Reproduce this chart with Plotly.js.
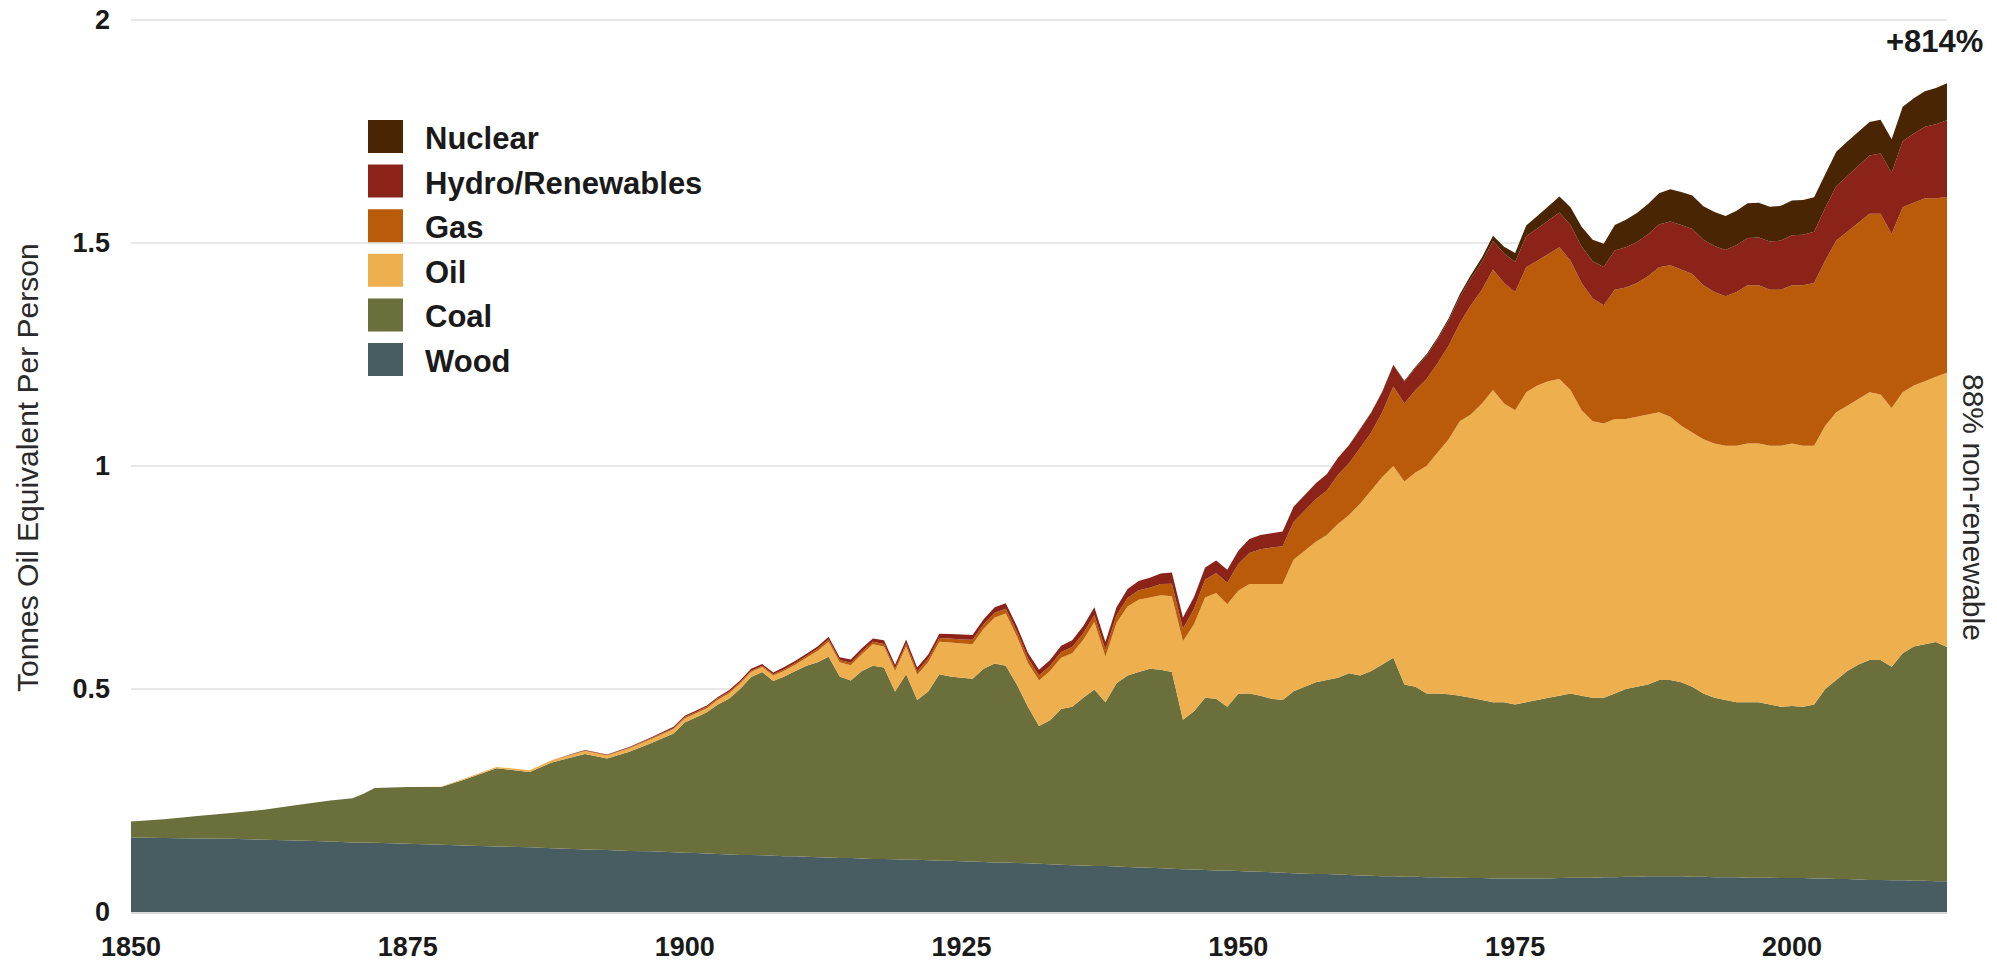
<!DOCTYPE html>
<html>
<head>
<meta charset="utf-8">
<script src="https://cdn.plot.ly/plotly-3.0.1.min.js"></script>
<style>
  html, body { margin: 0; padding: 0; background: #ffffff; }
  #chart { width: 1997px; height: 966px; }
</style>
</head>
<body>
<div id="chart"></div>
<script>
// ---------------- DATA (tonnes oil equivalent per person) ----------------
const years = [
  1850,1853,1856,1859,1862,1865,1868,1870,1871,1872,1875,1878,1880,1883,1886,1888,1890,1891,1893,1895,1897,1899,
  1900,1901,1902,1903,1904,1905,1906,1907,1908,1909,
  1910,1911,1912,1913,1914,1915,1916,1917,1918,1919,
  1920,1921,1922,1923,1924,1925,1926,1927,1928,1929,
  1930,1931,1932,1933,1934,1935,1936,1937,1938,1939,
  1940,1941,1942,1943,1944,1945,1946,1947,1948,1949,
  1950,1951,1952,1953,1954,1955,1956,1957,1958,1959,
  1960,1961,1962,1963,1964,1965,1966,1967,1968,1969,
  1970,1971,1972,1973,1974,1975,1976,1977,1978,1979,
  1980,1981,1982,1983,1984,1985,1986,1987,1988,1989,
  1990,1991,1992,1993,1994,1995,1996,1997,1998,1999,
  2000,2001,2002,2003,2004,2005,2006,2007,2008,2009,
  2010,2011,2012,2013,2014
];

const wood = [
  .167,.166,.165,.164,.162,.160,.158,.156,.156,.155,.153,.151,.149,.147,.145,.143,.141,.140,.139,.137,.136,.134,
  .133,.132,.131,.130,.129,.128,.128,.127,.126,.125,
  .125,.124,.123,.122,.121,.121,.120,.119,.119,.118,
  .117,.117,.116,.115,.115,.114,.113,.112,.111,.111,
  .110,.109,.108,.107,.106,.105,.104,.103,.103,.102,
  .101,.100,.099,.098,.097,.096,.095,.094,.093,.093,
  .092,.091,.090,.089,.088,.087,.086,.085,.085,.084,
  .083,.082,.081,.080,.080,.079,.079,.078,.078,.077,
  .077,.076,.076,.075,.075,.075,.075,.075,.075,.076,
  .077,.077,.077,.078,.078,.079,.079,.080,.080,.080,
  .080,.079,.079,.078,.078,.078,.077,.077,.077,.076,
  .076,.076,.075,.075,.074,.074,.073,.072,.072,.071,
  .071,.070,.070,.069,.069
];

const coal = [
  .036,.042,.050,.058,.067,.080,.092,.099,.109,.123,.127,.129,.147,.175,.169,.192,.207,.214,.205,.222,.243,.266,
  .292,.304,.317,.335,.349,.372,.399,.411,.392,.403,
  .415,.428,.437,.450,.407,.398,.420,.433,.429,.376,
  .416,.358,.378,.418,.413,.411,.410,.433,.446,.441,
  .400,.351,.309,.323,.349,.355,.376,.396,.367,.411,
  .429,.438,.446,.445,.441,.335,.355,.386,.385,.367,
  .397,.399,.395,.389,.387,.408,.419,.430,.435,.441,
  .452,.448,.459,.475,.490,.431,.426,.412,.412,.411,
  .408,.404,.399,.395,.395,.390,.395,.400,.405,.409,
  .413,.408,.403,.402,.412,.421,.426,.430,.440,.440,
  .435,.426,.411,.402,.397,.392,.393,.393,.388,.384,
  .386,.384,.390,.425,.446,.466,.482,.493,.493,.479,
  .509,.525,.530,.536,.525
];

const oil = [
  0,0,0,0,0,0,0,0,0,0,0,.001,.002,.003,.004,.005,.006,.007,.007,.008,.009,.010,
  .009,.009,.009,.011,.012,.012,.011,.011,.012,.013,
  .014,.018,.025,.034,.032,.034,.038,.048,.047,.046,
  .062,.057,.066,.073,.076,.077,.077,.090,.103,.117,
  .108,.098,.102,.110,.115,.120,.130,.151,.102,.135,
  .155,.162,.160,.167,.170,.176,.195,.225,.237,.230,
  .231,.245,.250,.257,.260,.295,.305,.315,.325,.345,
  .355,.385,.405,.420,.430,.455,.480,.510,.540,.572,
  .615,.635,.665,.700,.670,.660,.695,.705,.710,.710,
  .680,.640,.620,.615,.615,.605,.605,.605,.600,.590,
  .575,.570,.570,.570,.570,.575,.580,.580,.580,.585,
  .588,.585,.580,.590,.600,.595,.595,.600,.595,.580,
  .585,.585,.590,.595,.615
];

const gas = [
  0,0,0,0,0,0,0,0,0,0,0,0,0,0,0,0,.001,.001,.001,.001,.002,.002,
  .003,.003,.003,.003,.003,.003,.003,.003,.003,.003,
  .004,.004,.005,.005,.005,.006,.006,.006,.006,.006,
  .007,.007,.008,.008,.009,.009,.010,.010,.011,.011,
  .011,.011,.011,.012,.013,.014,.015,.016,.016,.017,
  .019,.021,.022,.025,.028,.028,.035,.040,.045,.048,
  .060,.070,.078,.082,.085,.085,.090,.095,.100,.110,
  .116,.125,.130,.145,.178,.175,.185,.195,.200,.210,
  .220,.245,.255,.270,.270,.265,.280,.280,.285,.295,
  .290,.285,.275,.265,.290,.295,.300,.310,.325,.340,
  .350,.355,.345,.340,.335,.345,.355,.355,.350,.350,
  .355,.360,.365,.370,.385,.390,.395,.400,.405,.390,
  .415,.410,.410,.400,.394
];

const hydro = [
  0,0,0,0,0,0,0,0,0,0,0,0,0,0,0,0,.001,.001,.001,.002,.002,.003,
  .003,.003,.003,.003,.004,.004,.004,.004,.004,.005,
  .005,.005,.005,.006,.006,.007,.007,.007,.008,.008,
  .009,.009,.009,.010,.010,.011,.011,.011,.012,.012,
  .012,.012,.013,.013,.014,.015,.016,.017,.017,.018,
  .020,.021,.022,.024,.025,.025,.026,.027,.028,.029,
  .030,.031,.032,.032,.033,.034,.035,.036,.037,.038,
  .040,.042,.044,.046,.048,.049,.050,.052,.054,.056,
  .058,.060,.062,.064,.066,.067,.070,.072,.075,.078,
  .080,.082,.084,.086,.088,.090,.092,.094,.096,.098,
  .100,.101,.102,.103,.104,.105,.106,.107,.108,.110,
  .112,.113,.115,.118,.122,.125,.128,.131,.135,.137,
  .148,.155,.160,.166,.172
];

const nuclear = [
  0,0,0,0,0,0,0,0,0,0,0,0,0,0,0,0,0,0,0,0,0,0,
  0,0,0,0,0,0,0,0,0,0,
  0,0,0,0,0,0,0,0,0,0,
  0,0,0,0,0,0,0,0,0,0,
  0,0,0,0,0,0,0,0,0,0,
  0,0,0,0,0,0,0,0,0,0,
  0,0,0,0,0,0,0,0,0,0,
  .001,.001,.001,.001,.001,.002,.002,.003,.004,.005,
  .007,.008,.010,.012,.015,.020,.024,.028,.032,.036,
  .040,.044,.048,.052,.057,.062,.065,.068,.070,.072,
  .074,.075,.075,.076,.076,.077,.078,.078,.078,.078,
  .078,.078,.077,.076,.077,.077,.076,.075,.076,.075,
  .077,.079,.080,.081,.083
];

const seriesNames = ["Wood", "Coal", "Oil", "Gas", "Hydro/Renewables", "Nuclear"];
const seriesData  = [wood, coal, oil, gas, hydro, nuclear];
const seriesColors = ["#485d61", "#6b6f3b", "#eeb04f", "#b95b09", "#8c2319", "#4a2503"];

const xTickVals = [1850, 1875, 1900, 1925, 1950, 1975, 2000];
const yTickVals = [0, 0.5, 1, 1.5, 2];
const yTickText = ["0", "0.5", "1", "1.5", "2"];

const yAxisTitle = "Tonnes Oil Equivalent Per Person";
const growthLabel = "+814%";
const sideLabel = "88% non-renewable";

// ---------------- LAYOUT HELPERS (pixel -> paper) ----------------
const W = 1997, H = 966;
const M = { l: 131, r: 50, t: 18, b: 54 };
const plotW = W - M.l - M.r;
const plotH = H - M.t - M.b;
const px = x => (x - M.l) / plotW;
const py = y => (H - M.b - y) / plotH;

const BOLD = { family: "Liberation Sans, Arial, sans-serif", weight: "bold", color: "#1a1a1a" };
const REG  = { family: "Liberation Sans, Arial, sans-serif", color: "#2a2a2a" };

const traces = seriesNames.map((name, i) => ({
  type: "scatter",
  x: years,
  y: seriesData[i],
  name: name,
  stackgroup: "one",
  mode: "none",
  fillcolor: seriesColors[i],
  line: { width: 0, shape: "linear" },
  hoverinfo: "skip",
  showlegend: false
}));

// custom legend (top entry = Nuclear)
const shapes = [];
const annotations = [];
const legendOrder = [5, 4, 3, 2, 1, 0];
const rowTop0 = 120, rowStep = 44.6, sw = 35, sh = 33, swX = 368, txtX = 423;
legendOrder.forEach((si, r) => {
  const top = rowTop0 + r * rowStep;
  shapes.push({
    type: "rect", xref: "paper", yref: "paper",
    x0: px(swX), x1: px(swX + sw), y0: py(top + sh), y1: py(top),
    fillcolor: seriesColors[si], line: { width: 0 }, layer: "above"
  });
  annotations.push({
    xref: "paper", yref: "paper", x: px(txtX), y: py(top + sh / 2 + 2),
    xanchor: "left", yanchor: "middle", showarrow: false,
    text: seriesNames[si],
    font: Object.assign({}, BOLD, { size: 31 })
  });
});

annotations.push({
  xref: "paper", yref: "paper", x: px(1934), y: py(42),
  xanchor: "center", yanchor: "middle", showarrow: false,
  text: growthLabel, font: Object.assign({}, BOLD, { size: 31 })
});
annotations.push({
  xref: "paper", yref: "paper", x: px(1974), y: py(507),
  xanchor: "center", yanchor: "middle", showarrow: false, textangle: 90,
  text: sideLabel, font: Object.assign({}, REG, { size: 30 })
});
annotations.push({
  xref: "paper", yref: "paper", x: px(27), y: py(468),
  xanchor: "center", yanchor: "middle", showarrow: false, textangle: -90,
  text: yAxisTitle, font: Object.assign({}, REG, { size: 30 })
});

const layout = {
  width: W, height: H,
  margin: M,
  paper_bgcolor: "#ffffff",
  plot_bgcolor: "#ffffff",
  showlegend: false,
  xaxis: {
    range: [1850, 2014],
    tickvals: xTickVals,
    tickformat: "d",
    showgrid: false,
    zeroline: false,
    showline: true, linecolor: "#d9d9d9", linewidth: 2,
    ticks: "",
    ticklabelstandoff: 10,
    tickfont: Object.assign({}, BOLD, { size: 27 }),
    fixedrange: true
  },
  yaxis: {
    range: [0, 2.004],
    tickvals: yTickVals,
    ticktext: yTickText,
    showgrid: true, gridcolor: "#e8e8e8", gridwidth: 2,
    zeroline: false,
    showline: false,
    ticks: "",
    ticklabelstandoff: 20,
    tickfont: Object.assign({}, BOLD, { size: 27 }),
    fixedrange: true
  },
  shapes: shapes,
  annotations: annotations
};

Plotly.newPlot("chart", traces, layout, { displayModeBar: false, staticPlot: true });
</script>
</body>
</html>
